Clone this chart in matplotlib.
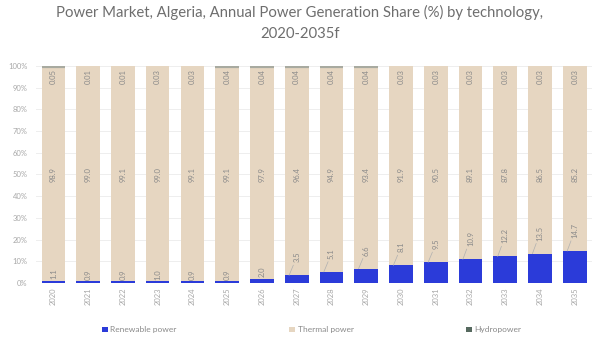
import matplotlib.pyplot as plt
import numpy as np

plt.rcParams['font.family'] = ['Lato', 'DejaVu Sans']

# 数据
years = ['2020', '2021', '2022', '2023', '2024', '2025', '2026', '2027',
         '2028', '2029', '2030', '2031', '2032', '2033', '2034', '2035']
renewable = [1.1, 0.9, 0.9, 1.0, 0.9, 0.9, 2.0, 3.5, 5.1, 6.6, 8.1, 9.5, 10.9, 12.2, 13.5, 14.7]
thermal = [98.9, 99.0, 99.1, 99.0, 99.1, 99.1, 97.9, 96.4, 94.9, 93.4, 91.9, 90.5, 89.1, 87.8, 86.5, 85.2]
hydro = [0.05, 0.01, 0.01, 0.03, 0.03, 0.04, 0.04, 0.04, 0.04, 0.04, 0.03, 0.03, 0.03, 0.03, 0.03, 0.03]
hydro_lbl = ['0.05', '0.01', '0.01', '0.03', '0.03', '0.04', '0.04', '0.04',
             '0.04', '0.04', '0.03', '0.03', '0.03', '0.03', '0.03', '0.03']

c_ren = '#2b3bd9'
c_th = '#e6d6c1'
c_hy = '#56695f'
c_txt = '#8a8a8a'

x = np.arange(len(years))
ren = np.array(renewable)
th = np.array(thermal)
hy = np.array(hydro)
tot = ren + th + hy
# 归一化到 100%
ren_s = ren / tot * 100
th_s = th / tot * 100
hy_s = hy / tot * 100

fig = plt.figure(figsize=(6, 3.43), dpi=100)
ax = fig.add_axes([0.06, 0.175, 0.927, 0.633])
w = 0.68
ax.bar(x, ren_s, w, color=c_ren, label='Renewable power', zorder=3)
ax.bar(x, th_s, w, bottom=ren_s, color=c_th, label='Thermal power', zorder=3)
ax.bar(x, hy_s, w, bottom=ren_s + th_s, color=c_hy, label='Hydropower', zorder=3)
# 顶部的水电细条，太薄了画一条线让它看得见
for i in x:
    if hy[i] >= 0.04:
        ax.plot([i - w / 2, i + w / 2], [99.7, 99.7], color='#a8aaa0', lw=1.6,
                solid_capstyle='butt', zorder=4)

for i in x:
    ax.text(i, 50, '%.1f' % th[i], rotation=90, ha='center', va='center',
            fontsize=5.5, color=c_txt, zorder=5)
    ax.text(i, 95, hydro_lbl[i], rotation=90, ha='center', va='center',
            fontsize=5.5, color=c_txt, zorder=5)
    if ren[i] < 3:
        ax.text(i, ren[i] + 0.6, '%.1f' % ren[i], rotation=90, ha='center', va='bottom',
                fontsize=5.5, color=c_txt, zorder=5)
    else:
        ly = ren[i] + 6
        ax.annotate('%.1f' % ren[i], xy=(i - 0.22, ren[i]), xytext=(i, ly),
                    rotation=90, ha='center', va='bottom', fontsize=5.5, color=c_txt,
                    arrowprops=dict(arrowstyle='-', color='#b0b0b0', lw=0.5,
                                    shrinkA=0, shrinkB=0),
                    zorder=5)

ax.set_xlim(-0.5, len(years) - 0.5)
ax.set_ylim(0, 100)
ax.set_yticks(range(0, 101, 10))
ax.set_yticklabels(['%d%%' % v for v in range(0, 101, 10)])
ax.set_xticks(x)
ax.set_xticklabels(years, rotation=90)
ax.tick_params(axis='both', length=0, labelsize=5.5, colors='#a8a8a8')
ax.tick_params(axis='y', pad=6)
ax.grid(axis='y', color='#eeeeee', lw=0.7, zorder=0)
for s in ax.spines.values():
    s.set_visible(False)

fig.suptitle('Power Market, Algeria, Annual Power Generation Share (%) by technology,\n2020-2035f',
             y=0.985, fontsize=10.7, color='#6e6e6e', linespacing=1.6)

fig.legend(loc='center', bbox_to_anchor=(0.157, 0.0, 0.725, 0.076), mode='expand', ncol=3,
           frameon=False, fontsize=6, labelcolor='#8a8a8a', handlelength=0.7,
           handleheight=0.7, handletextpad=0.3)

plt.savefig('out.png', dpi=100)
